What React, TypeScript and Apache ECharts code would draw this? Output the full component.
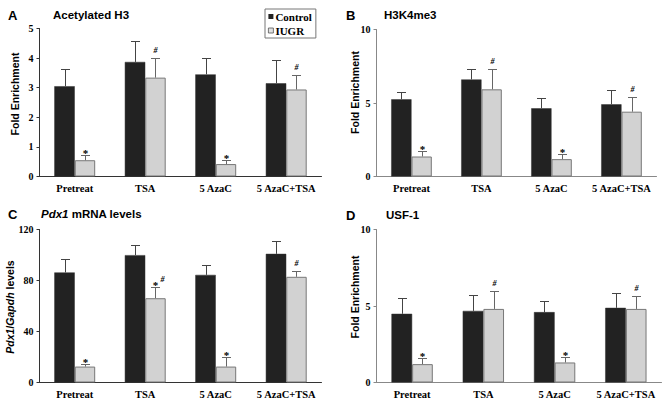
import React, { useEffect, useRef } from "react";
import * as echarts from "echarts";

const categories = ["Pretreat", "TSA", "5 AzaC", "5 AzaC+TSA"];

// Panel A – Acetylated H3 (fold enrichment)
const acetylControl = [3.05, 3.87, 3.45, 3.15];
const acetylControlErr = [0.57, 0.7, 0.54, 0.8];
const acetylIugr = [0.55, 3.34, 0.42, 2.94];
const acetylIugrErr = [0.17, 0.68, 0.14, 0.48];
const acetylMarks = ["*", "#", "*", "#"];

// Panel B – H3K4me3 (fold enrichment)
const h3k4Control = [5.25, 6.6, 4.64, 4.91];
const h3k4ControlErr = [0.47, 0.7, 0.68, 0.97];
const h3k4Iugr = [1.36, 5.93, 1.18, 4.41];
const h3k4IugrErr = [0.38, 1.37, 0.34, 1.02];
const h3k4Marks = ["*", "#", "*", "#"];

// Panel C – Pdx1 mRNA levels (Pdx1/Gapdh)
const pdx1Control = [86.3, 99.9, 84.4, 100.9];
const pdx1ControlErr = [10.4, 7.6, 8.1, 9.7];
const pdx1Iugr = [12.5, 66.1, 12.5, 82.9];
const pdx1IugrErr = [1.9, 8.7, 7.6, 4.4];
const pdx1Marks = ["*", "*#", "*", "#"];

// Panel D – USF-1 (fold enrichment)
const usfControl = [4.49, 4.68, 4.6, 4.88];
const usfControlErr = [1.02, 1.05, 0.72, 0.96];
const usfIugr = [1.2, 4.81, 1.31, 4.81];
const usfIugrErr = [0.37, 1.18, 0.37, 0.83];
const usfMarks = ["*", "#", "*", "#"];

const yMaxes = [5, 10, 120, 10];
const yIntervals = [1, 5, 40, 5];

const SERIF = '"Liberation Serif", "Times New Roman", serif';
const SANS = '"Liberation Sans", Arial, sans-serif';
const BAR_FRAC = 0.29;
const CONTROL_COLOR = "#222222";
const IUGR_COLOR = "#d2d2d2";

type Panel = {
  control: number[];
  controlErr: number[];
  iugr: number[];
  iugrErr: number[];
  marks: string[];
  grid: { left: number; top: number; width: number; height: number };
  axisColor: string;
};

const panels: Panel[] = [
  { control: acetylControl, controlErr: acetylControlErr, iugr: acetylIugr, iugrErr: acetylIugrErr, marks: acetylMarks,
    grid: { left: 39.5, top: 28.5, width: 282, height: 148 }, axisColor: "#333" },
  { control: h3k4Control, controlErr: h3k4ControlErr, iugr: h3k4Iugr, iugrErr: h3k4IugrErr, marks: h3k4Marks,
    grid: { left: 376.5, top: 29.5, width: 280, height: 147 }, axisColor: "#888" },
  { control: pdx1Control, controlErr: pdx1ControlErr, iugr: pdx1Iugr, iugrErr: pdx1IugrErr, marks: pdx1Marks,
    grid: { left: 39.5, top: 229.5, width: 282, height: 153 }, axisColor: "#333" },
  { control: usfControl, controlErr: usfControlErr, iugr: usfIugr, iugrErr: usfIugrErr, marks: usfMarks,
    grid: { left: 376.5, top: 229.5, width: 285, height: 153 }, axisColor: "#888" },
];

function errorSeries(p: number, values: number[], errs: number[], side: number, marks: string[] | null, color: string) {
  return {
    type: "custom",
    name: side < 0 ? "ctrl-err" : "iugr-err",
    xAxisIndex: p,
    yAxisIndex: p,
    z: 5,
    silent: true,
    encode: { x: 0, y: 1 },
    data: values.map((v, i) => [i, v + errs[i], v]),
    renderItem: (params: any, api: any) => {
      const i = api.value(0);
      const top = api.coord([i, api.value(1)]);
      const base = api.coord([i, api.value(2)]);
      const band = api.size([1, 0])[0];
      const cx = Math.round(top[0] + (side * band * BAR_FRAC) / 2) + 0.5;
      const ty = Math.round(top[1]) + 0.5;
      const children: any[] = [
        { type: "line", shape: { x1: cx, y1: base[1], x2: cx, y2: ty }, style: { stroke: color, lineWidth: 1 } },
        { type: "line", shape: { x1: cx - 4.5, y1: ty, x2: cx + 4.5, y2: ty }, style: { stroke: color, lineWidth: 1 } },
      ];
      const m = marks ? marks[params.dataIndex] : "";
      const hasStar = m.indexOf("*") >= 0;
      const hasHash = m.indexOf("#") >= 0;
      if (hasStar) {
        children.push({
          type: "text",
          x: cx,
          y: ty + 3,
          style: { text: "*", font: `bold 11px ${SERIF}`, fill: "#000", align: "center", verticalAlign: "bottom" },
        });
      }
      if (hasHash) {
        children.push({
          type: "text",
          x: cx + (hasStar ? 7 : 0),
          y: ty - 4,
          style: { text: "#", font: `italic bold 8px ${SERIF}`, fill: "#000", align: "center", verticalAlign: "bottom" },
        });
      }
      return { type: "group", children };
    },
  };
}

function buildOption(): any {
  const grids = panels.map((p) => ({ ...p.grid, containLabel: false }));
  const xAxes = panels.map((p, i) => ({
    type: "category",
    gridIndex: i,
    data: categories,
    axisLine: { show: true, lineStyle: { color: p.axisColor, width: 1 } },
    axisTick: { show: false },
    axisLabel: { interval: 0, margin: 6, color: "#000", fontFamily: SERIF, fontWeight: "bold", fontSize: 10.5 },
    splitLine: { show: false },
  }));
  const yAxes = panels.map((p, i) => ({
    type: "value",
    gridIndex: i,
    min: 0,
    max: yMaxes[i],
    interval: yIntervals[i],
    axisLine: { show: true, lineStyle: { color: p.axisColor, width: 1 } },
    axisTick: { show: true, length: 3, lineStyle: { color: p.axisColor } },
    axisLabel: { margin: 6, color: "#000", fontFamily: SERIF, fontWeight: "bold", fontSize: 10 },
    splitLine: { show: false },
  }));

  const series: any[] = [];
  panels.forEach((p, i) => {
    series.push({
      type: "bar",
      name: "Control",
      xAxisIndex: i,
      yAxisIndex: i,
      data: p.control,
      barWidth: `${BAR_FRAC * 100}%`,
      barGap: "0%",
      itemStyle: { color: CONTROL_COLOR, borderColor: "#333", borderWidth: 0.5 },
    });
    series.push({
      type: "bar",
      name: "IUGR",
      xAxisIndex: i,
      yAxisIndex: i,
      data: p.iugr,
      barWidth: `${BAR_FRAC * 100}%`,
      barGap: "0%",
      itemStyle: { color: IUGR_COLOR, borderColor: "#777", borderWidth: 1 },
    });
    series.push(errorSeries(i, p.control, p.controlErr, -1, null, "#444"));
    series.push(errorSeries(i, p.iugr, p.iugrErr, 1, p.marks, "#666"));
  });

  const letterStyle = { font: `bold 13px ${SANS}`, fill: "#000", verticalAlign: "middle" };
  const titleStyle = { font: `bold 11.5px ${SANS}`, fill: "#000", verticalAlign: "middle" };
  const yNameStyle = { font: `bold 10.5px ${SANS}`, fill: "#000", align: "center", verticalAlign: "middle" };

  const graphic: any[] = [
    { type: "text", x: 8, y: 15, style: { text: "A", ...letterStyle } },
    { type: "text", x: 53, y: 15, style: { text: "Acetylated H3", ...titleStyle } },
    { type: "text", x: 346, y: 15, style: { text: "B", ...letterStyle } },
    { type: "text", x: 384, y: 15, style: { text: "H3K4me3", ...titleStyle } },
    { type: "text", x: 8, y: 214, style: { text: "C", ...letterStyle } },
    {
      type: "text",
      x: 41,
      y: 214,
      style: {
        text: "{i|Pdx1} mRNA levels",
        ...titleStyle,
        rich: { i: { font: `italic bold 11.5px ${SANS}`, fill: "#000" } },
      },
    },
    { type: "text", x: 346, y: 215, style: { text: "D", ...letterStyle } },
    { type: "text", x: 386, y: 215, style: { text: "USF-1", ...titleStyle } },
    { type: "text", x: 15, y: 94, rotation: Math.PI / 2, style: { text: "Fold Enrichment", ...yNameStyle } },
    { type: "text", x: 355, y: 92.5, rotation: Math.PI / 2, style: { text: "Fold Enrichment", ...yNameStyle } },
    {
      type: "text",
      x: 10,
      y: 307,
      rotation: Math.PI / 2,
      style: {
        text: "{i|Pdx1}/{i|Gapdh} levels",
        ...yNameStyle,
        rich: { i: { font: `italic bold 10.5px ${SANS}`, fill: "#000" } },
      },
    },
    { type: "text", x: 355, y: 297, rotation: Math.PI / 2, style: { text: "Fold Enrichment", ...yNameStyle } },
  ];

  return {
    animation: false,
    backgroundColor: "#fff",
    grid: grids,
    xAxis: xAxes,
    yAxis: yAxes,
    legend: {
      data: [
        { name: "Control", itemStyle: { color: CONTROL_COLOR, borderWidth: 0 } },
        { name: "IUGR", itemStyle: { color: "#e0e0e0", borderColor: "#555", borderWidth: 0.8 } },
      ],
      left: 265,
      top: 9,
      orient: "vertical",
      icon: "rect",
      itemWidth: 5,
      itemHeight: 5,
      itemGap: 3,
      padding: [2, 4, 2, 3],
      borderColor: "#777",
      borderWidth: 1,
      textStyle: { fontFamily: SERIF, fontWeight: "bold", fontSize: 11, color: "#000", padding: [0, 0, 0, -3] },
      selectedMode: false,
    },
    graphic,
    series,
  };
}

export default function App() {
  const ref = useRef<HTMLDivElement>(null);
  useEffect(() => {
    if (!ref.current) return;
    const chart = echarts.init(ref.current, null, { renderer: "svg" });
    chart.setOption(buildOption());
    return () => chart.dispose();
  }, []);
  return (
    <div
      ref={ref}
      style={{ position: "absolute", left: 0, top: 0, width: 666, height: 404, background: "#fff" }}
    />
  );
}
